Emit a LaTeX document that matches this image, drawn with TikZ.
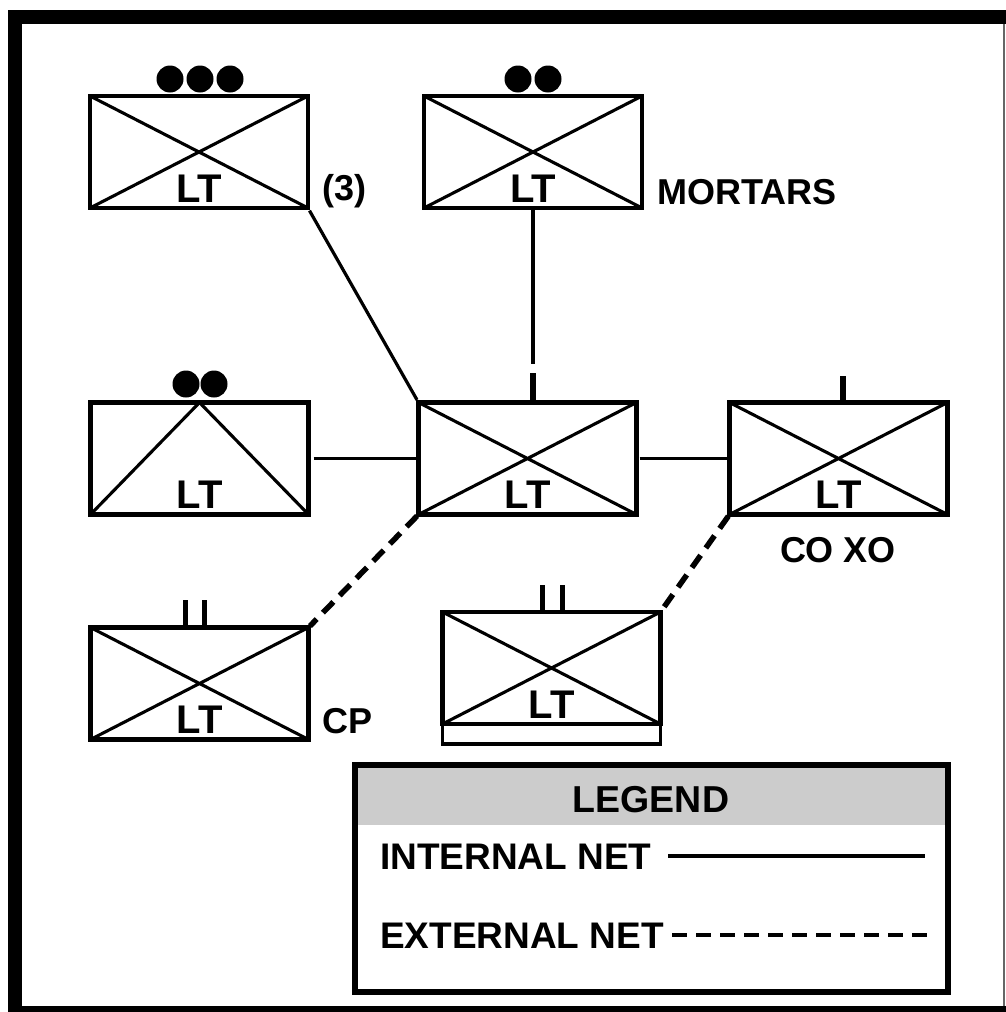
\documentclass[tikz,border=0pt]{standalone}
\usepackage{fontspec}
\setmainfont{Liberation Sans}
\definecolor{lgray}{RGB}{204,204,204}
\begin{document}
\begin{tikzpicture}[x=1pt,y=-1pt,
  unitbox/.style={draw, line width=4.5pt, minimum width=218pt, minimum height=112pt, inner sep=0pt, outer sep=0pt, fill=white},
  stripbox/.style={draw, line width=3.2pt, minimum width=218pt, minimum height=20pt, inner sep=0pt, outer sep=0pt, anchor=north},
  diag/.style={line width=3.1pt},
  lt/.style={font=\fontsize{40}{40}\selectfont\bfseries, inner sep=0pt, anchor=base},
  lab/.style={font=\fontsize{36}{36}\selectfont\bfseries, inner sep=0pt, anchor=base west},
  internal/.style={line width=3.2pt},
  external/.style={line width=5.5pt, dash pattern=on 15pt off 9pt},
  legext/.style={line width=3.2pt, dash pattern=on 15pt off 9pt},
  tickmark/.style={line width=5.5pt},
  legendbox/.style={minimum width=593pt, minimum height=227pt, inner sep=0pt, outer sep=0pt}
]
\useasboundingbox (0,0) rectangle (1006,1012);
% frame
\fill (8,10) rectangle (22,1012);
\fill (8,10) rectangle (1006,24);
\fill (8,1006) rectangle (1006,1012);
\draw[line width=1.5pt, black!60] (1004,24) -- (1004,1006);

% boxes
\node[unitbox] (A) at (199,152) {};
\draw[diag] (A.north west) -- (A.south east) (A.north east) -- (A.south west);
\node[lt] (Alt) at ([yshift=6pt]A.south) {LT};

\node[unitbox] (B) at (533,152) {};
\draw[diag] (B.north west) -- (B.south east) (B.north east) -- (B.south west);
\node[lt] (Blt) at ([yshift=6pt]B.south) {LT};

\node[unitbox] (D) at (199.5,458.5) {};
\draw[diag] (D.south west) -- (D.north) -- (D.south east);
\node[lt] (Dlt) at ([yshift=6pt]D.south) {LT};

\node[unitbox] (C) at (527.5,458.5) {};
\draw[diag] (C.north west) -- (C.south east) (C.north east) -- (C.south west);
\node[lt] (Clt) at ([yshift=6pt]C.south) {LT};

\node[unitbox] (E) at (838.5,458.5) {};
\draw[diag] (E.north west) -- (E.south east) (E.north east) -- (E.south west);
\node[lt] (Elt) at ([yshift=6pt]E.south) {LT};

\node[unitbox] (F) at (199.5,683.5) {};
\draw[diag] (F.north west) -- (F.south east) (F.north east) -- (F.south west);
\node[lt] (Flt) at ([yshift=6pt]F.south) {LT};

\node[unitbox] (G) at (551.5,668) {};
\draw[diag] (G.north west) -- (G.south east) (G.north east) -- (G.south west);
\node[lt] (Glt) at ([yshift=6pt]G.south) {LT};
\node[stripbox] (Gs) at (G.south) {};

% dots
\fill (170,79) circle (13.5pt) (200,79) circle (13.5pt) (230,79) circle (13.5pt);
\fill (518,79) circle (13.5pt) (548,79) circle (13.5pt);
\fill (186,384) circle (13.5pt) (214,384) circle (13.5pt);

% ticks
\draw[tickmark] ([xshift=5.5pt]C.north) -- ++(0,-30);
\draw[tickmark] ([xshift=4.5pt]E.north) -- ++(0,-27);
\draw[tickmark] ([xshift=-14pt]F.north) -- ++(0,-28) ([xshift=5pt]F.north) -- ++(0,-28);
\draw[tickmark] ([xshift=-9pt]G.north) -- ++(0,-27) ([xshift=11pt]G.north) -- ++(0,-27);

% labels
\node[lab] (n3) at (322,200) {(3)};
\node[lab] (mort) at (657,204) {MORTARS};
\node[lab] (cp) at (322,733) {CP};
\node[lab, anchor=base] (coxo) at (838,562) {CO XO};

% connectors
\coordinate (Cin) at ([xshift=5.5pt, yshift=39pt]C.north);
\draw[internal] (B.south) -- (Cin);
\draw[internal, shorten <=3pt, shorten >=3pt] (A.south east) -- (C.north west);
\draw[internal, shorten <=5pt, shorten >=3pt] (D.east) -- (C.west);
\draw[internal, shorten <=3pt, shorten >=3pt] (C.east) -- (E.west);
\draw[external, shorten <=2pt, shorten >=2pt] (C.south west) -- (F.north east);
\draw[external, shorten <=2pt, shorten >=2pt] (E.south west) -- (G.north east);

% legend
\node[legendbox] (L) at (651.5,878.5) {};
\fill[lgray] (L.north west) rectangle ([yshift=-60pt]L.north east);
\draw[line width=6pt] (L.north west) rectangle (L.south east);
\node[lab, anchor=base, font=\fontsize{37.5}{37.5}\selectfont\bfseries] (Lt) at (651,812) {LEGEND};
\node[lab, font=\fontsize{37}{37}\selectfont\bfseries] (Li) at (380,869) {INTERNAL NET};
\node[lab, font=\fontsize{37}{37}\selectfont\bfseries] (Le) at (380,948) {EXTERNAL NET};
\coordinate (Li1) at (668,856);
\coordinate (Li2) at (925,856);
\draw[internal] (Li1) -- (Li2);
\coordinate (Le1) at (672,935);
\coordinate (Le2) at (928,935);
\draw[legext] (Le1) -- (Le2);
\end{tikzpicture}
\end{document}
